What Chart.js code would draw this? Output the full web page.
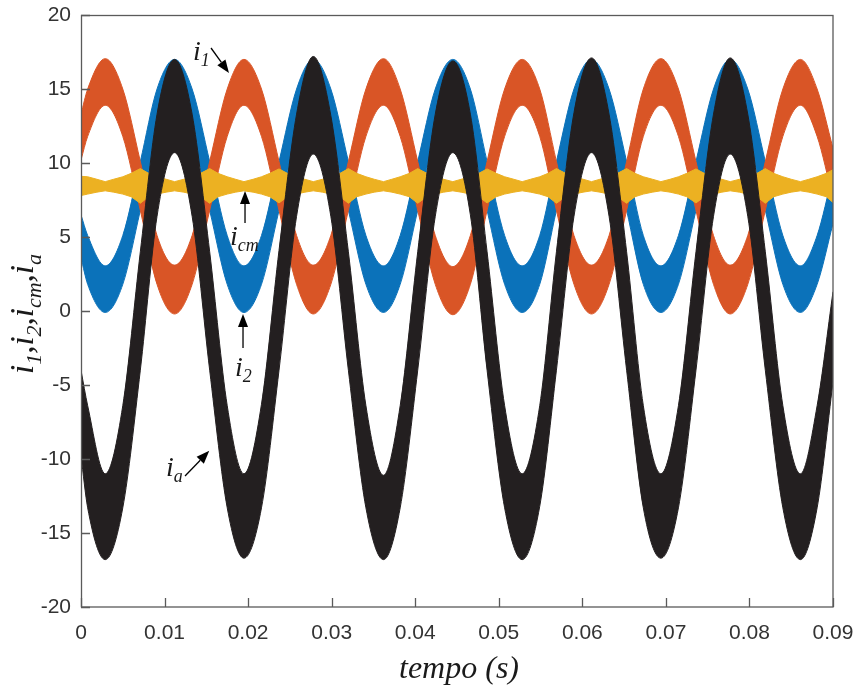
<!DOCTYPE html>
<html><head><meta charset="utf-8">
<script src="https://cdn.jsdelivr.net/npm/chart.js@4.4.1/dist/chart.umd.min.js"></script>
<style>html,body{margin:0;padding:0;background:#fff;}#wrap{width:856px;height:688px;}</style>
</head><body><div id="wrap"><canvas id="c" width="856" height="688"></canvas></div>
<script>
// ---- time samples (s) ----
const tA = [0, 0.0008, 0.0029, 0.0050, 0.0071, 0.0091, 0.0112, 0.0133, 0.0154, 0.0175, 0.0195, 0.0216, 0.0237, 0.0258, 0.0278, 0.0299, 0.0320, 0.0341, 0.0362, 0.0382, 0.0403, 0.0424, 0.0445, 0.0466, 0.0486, 0.0507, 0.0528, 0.0549, 0.0569, 0.0590, 0.0611, 0.0632, 0.0653, 0.0673, 0.0694, 0.0715, 0.0736, 0.0757, 0.0777, 0.0798, 0.0819, 0.0840, 0.0861, 0.0881, 0.0900];
const tB = [0, 0.0008, 0.0019, 0.0029, 0.0039, 0.0050, 0.0060, 0.0071, 0.0081, 0.0091, 0.0102, 0.0112, 0.0123, 0.0133, 0.0143, 0.0154, 0.0164, 0.0175, 0.0185, 0.0195, 0.0206, 0.0216, 0.0226, 0.0237, 0.0247, 0.0258, 0.0268, 0.0278, 0.0289, 0.0299, 0.0310, 0.0320, 0.0330, 0.0341, 0.0351, 0.0362, 0.0372, 0.0382, 0.0393, 0.0403, 0.0414, 0.0424, 0.0434, 0.0445, 0.0455, 0.0466, 0.0476, 0.0486, 0.0497, 0.0507, 0.0518, 0.0528, 0.0538, 0.0549, 0.0559, 0.0569, 0.0580, 0.0590, 0.0601, 0.0611, 0.0621, 0.0632, 0.0642, 0.0653, 0.0663, 0.0673, 0.0684, 0.0694, 0.0705, 0.0715, 0.0725, 0.0736, 0.0746, 0.0757, 0.0767, 0.0777, 0.0788, 0.0798, 0.0809, 0.0819, 0.0829, 0.0840, 0.0850, 0.0861, 0.0871, 0.0881, 0.0892, 0.0900];

// ---- i_a (black band: upper / lower envelope, A) ----
const iaUpper = [-4.0, -6.4,
  -11.0, -6.4, 4.0, 13.3, 17.0, 13.3, 4.0, -6.4,
  -11.0, -6.3, 4.1, 13.3, 17.2, 13.2, 4.0, -6.4,
  -11.1, -6.4, 4.0, 13.3, 16.9, 13.3, 4.0, -6.4,
  -11.0, -6.4, 4.0, 13.4, 17.1, 13.3, 4.0, -6.4,
  -11.0, -6.4, 4.0, 13.3, 17.1, 13.3, 4.0, -6.4,
  -11.0, -6.4, 1.3];
const iaLower = [-9.8, -13.3,
  -16.8, -13.3, -4.0, 6.4, 10.7, 6.4, -4.0, -13.3,
  -16.7, -13.3, -4.0, 6.4, 10.6, 6.4, -4.0, -13.3,
  -16.8, -13.3, -4.0, 6.4, 10.7, 6.5, -4.0, -13.3,
  -16.8, -13.2, -4.0, 6.4, 10.7, 6.4, -4.0, -13.3,
  -16.7, -13.3, -4.0, 6.4, 10.6, 6.4, -4.0, -13.3,
  -16.8, -13.3, -4.8];

// ---- i_1 (orange band) ----
const i1Upper = [13.3, 15.0,
  17.05, 15.0, 10.1, 5.1, 3.1, 5.1, 10.1, 15.0,
  17.0, 15.0, 10.1, 5.1, 3.1, 5.1, 10.1, 15.0,
  17.05, 15.0, 10.1, 5.1, 3.0, 5.1, 10.1, 15.0,
  17.0, 15.0, 10.1, 5.1, 3.1, 5.1, 10.1, 15.0,
  17.05, 15.0, 10.1, 5.1, 3.1, 5.1, 10.1, 15.0,
  17.0, 15.0, 11.0];
const i1Lower = [10.2, 11.8,
  13.9, 11.8, 6.8, 1.8, -0.2, 1.8, 6.8, 11.8,
  13.9, 11.8, 6.8, 1.8, -0.2, 1.8, 6.8, 11.8,
  13.9, 11.8, 6.8, 1.8, -0.25, 1.8, 6.8, 11.8,
  13.9, 11.8, 6.8, 1.8, -0.2, 1.8, 6.8, 11.8,
  13.9, 11.8, 6.8, 1.8, -0.2, 1.8, 6.8, 11.8,
  13.9, 11.8, 7.6];

// ---- i_2 (blue band) ----
const i2Upper = [6.5, 5.1,
  3.05, 5.1, 10.1, 15.0, 17.0, 15.0, 10.1, 5.1,
  3.05, 5.1, 10.1, 15.0, 17.0, 15.0, 10.1, 5.1,
  3.05, 5.1, 10.1, 15.0, 17.0, 15.0, 10.1, 5.1,
  3.05, 5.1, 10.1, 15.0, 17.0, 15.0, 10.1, 5.1,
  3.05, 5.1, 10.1, 15.0, 17.0, 15.0, 10.1, 5.1,
  3.05, 5.1, 9.3];
const i2Lower = [3.6, 1.8,
  -0.1, 1.8, 6.8, 11.8, 13.85, 11.8, 6.8, 1.8,
  -0.1, 1.8, 6.8, 11.8, 13.85, 11.8, 6.8, 1.8,
  -0.1, 1.8, 6.8, 11.8, 13.85, 11.8, 6.8, 1.8,
  -0.1, 1.8, 6.8, 11.8, 13.85, 11.8, 6.8, 1.8,
  -0.1, 1.8, 6.8, 11.8, 13.85, 11.8, 6.8, 1.8,
  -0.1, 1.8, 5.9];

// ---- i_cm (yellow band) ----
const icmUpper = [9.1, 9.07, 8.9,
  8.74, 8.9, 9.07, 9.3, 9.62, 9.3, 9.07, 8.9, 8.74, 8.9, 9.07, 9.3, 9.62, 9.3, 9.07, 8.9,
  8.74, 8.9, 9.07, 9.3, 9.6, 9.3, 9.07, 8.9, 8.74, 8.9, 9.07, 9.3, 9.62, 9.3, 9.07, 8.9,
  8.74, 8.9, 9.07, 9.3, 9.62, 9.3, 9.07, 8.9, 8.74, 8.9, 9.07, 9.3, 9.6, 9.3, 9.07, 8.9,
  8.74, 8.9, 9.07, 9.3, 9.62, 9.3, 9.07, 8.9, 8.74, 8.9, 9.07, 9.3, 9.62, 9.3, 9.07, 8.9,
  8.74, 8.9, 9.07, 9.3, 9.6, 9.3, 9.07, 8.9, 8.74, 8.9, 9.07, 9.3, 9.62, 9.3, 9.07, 8.9,
  8.74, 8.9, 9.07, 9.3, 9.55];
const icmLower = [7.8, 7.9, 8.03,
  8.12, 8.03, 7.9, 7.72, 7.28, 7.72, 7.9, 8.03, 8.12, 8.03, 7.9, 7.72, 7.28, 7.72, 7.9, 8.03,
  8.12, 8.03, 7.9, 7.72, 7.3, 7.72, 7.9, 8.03, 8.12, 8.03, 7.9, 7.72, 7.28, 7.72, 7.9, 8.03,
  8.12, 8.03, 7.9, 7.72, 7.28, 7.72, 7.9, 8.03, 8.12, 8.03, 7.9, 7.72, 7.3, 7.72, 7.9, 8.03,
  8.12, 8.03, 7.9, 7.72, 7.28, 7.72, 7.9, 8.03, 8.12, 8.03, 7.9, 7.72, 7.28, 7.72, 7.9, 8.03,
  8.12, 8.03, 7.9, 7.72, 7.3, 7.72, 7.9, 8.03, 8.12, 8.03, 7.9, 7.72, 7.28, 7.72, 7.9, 8.03,
  8.12, 8.03, 7.9, 7.72, 7.33];

// ---- ticks ----
const xTickValues = [0, 0.01, 0.02, 0.03, 0.04, 0.05, 0.06, 0.07, 0.08, 0.09];
const xTickLabels = ['0', '0.01', '0.02', '0.03', '0.04', '0.05', '0.06', '0.07', '0.08', '0.09'];
const yTickValues = [-20, -15, -10, -5, 0, 5, 10, 15, 20];
const yTickLabels = ['-20', '-15', '-10', '-5', '0', '5', '10', '15', '20'];

// ---- text annotations (data coordinates) ----
const notes = [
  { main: 'i', sub: '1',  at: [0.01340, 16.96], from: [0.01556, 17.77], to: [0.01771, 16.08] },
  { main: 'i', sub: 'cm', at: [0.01783, 4.46],  from: [0.01963, 5.95],  to: [0.01963, 8.10] },
  { main: 'i', sub: '2',  at: [0.01843, -4.39], from: [0.01939, -2.5],  to: [0.01939, -0.2] },
  { main: 'i', sub: 'a',  at: [0.01017, -11.15], from: [0.01245, -11.15], to: [0.01535, -9.45] }
];

const COLORS = { i2: '#0B72BA', i1: '#D95526', icm: '#ECB122', ia: '#231F20' };
const SERIF = '"Liberation Serif", "Times New Roman", serif';
const SANS = '"Liberation Sans", Arial, Helvetica, sans-serif';

function pts(t, v) { return t.map((x, i) => ({ x: x, y: v[i] })); }
function band(name, t, lo, hi, color, order, smooth) {
  const common = { borderColor: color, backgroundColor: color, borderWidth: 1, pointRadius: 0, order: order };
  if (smooth) { common.cubicInterpolationMode = 'monotone'; } else { common.tension = 0; }
  return [
    Object.assign({ label: name + ' min', data: pts(t, lo), fill: false }, common),
    Object.assign({ label: name + ' max', data: pts(t, hi), fill: '-1' }, common)
  ];
}

function richText(ctx, x, y, main, sub, fMain, fSub, subDrop) {
  ctx.textAlign = 'left';
  ctx.textBaseline = 'alphabetic';
  ctx.font = 'italic ' + fMain + 'px ' + SERIF;
  const w1 = ctx.measureText(main).width;
  ctx.fillText(main, x, y);
  ctx.font = 'italic ' + fSub + 'px ' + SERIF;
  ctx.fillText(sub, x + w1, y + subDrop);
}

function arrow(ctx, x1, y1, x2, y2) {
  const ang = Math.atan2(y2 - y1, x2 - x1);
  const L = 13, W = 5;
  const bx = x2 - L * Math.cos(ang), by = y2 - L * Math.sin(ang);
  ctx.beginPath();
  ctx.moveTo(x1, y1); ctx.lineTo(bx, by);
  ctx.lineWidth = 1.3; ctx.strokeStyle = '#000'; ctx.stroke();
  ctx.beginPath();
  ctx.moveTo(x2, y2);
  ctx.lineTo(bx + W * Math.sin(ang), by - W * Math.cos(ang));
  ctx.lineTo(bx - W * Math.sin(ang), by + W * Math.cos(ang));
  ctx.closePath(); ctx.fillStyle = '#000'; ctx.fill();
}

const decor = {
  id: 'decor',
  afterDraw(chart) {
    const ctx = chart.ctx, ca = chart.chartArea, xs = chart.scales.x, ys = chart.scales.y;
    ctx.save();
    // frame
    ctx.strokeStyle = '#5a5a5a'; ctx.lineWidth = 1.3;
    ctx.strokeRect(ca.left + 0.5, ca.top + 0.5, ca.right - ca.left - 0.5, ca.bottom - ca.top - 0.5);
    // inward ticks
    ctx.beginPath();
    xTickValues.forEach(v => { const p = Math.round(xs.getPixelForValue(v)) + 0.5; ctx.moveTo(p, ca.bottom); ctx.lineTo(p, ca.bottom - 9); });
    yTickValues.forEach(v => { const p = Math.round(ys.getPixelForValue(v)) + 0.5; ctx.moveTo(ca.left, p); ctx.lineTo(ca.left + 9, p); });
    ctx.stroke();
    // x title
    ctx.fillStyle = '#1a1a1a';
    ctx.font = 'italic 32px ' + SERIF; ctx.textAlign = 'center'; ctx.textBaseline = 'alphabetic';
    ctx.fillText('tempo (s)', (ca.left + ca.right) / 2 + 2, 678);
    // y title (rotated, with subscripts)
    const parts = [['i', 0], ['1', 1], [',', 0], ['i', 0], ['2', 1], [',', 0], ['i', 0], ['cm', 1], [',', 0], ['i', 0], ['a', 1]];
    const fM = 33, fS = 22, drop = 8;
    let total = 0;
    parts.forEach(p => { ctx.font = 'italic ' + (p[1] ? fS : fM) + 'px ' + SERIF; total += ctx.measureText(p[0]).width; });
    ctx.translate(33, 314); ctx.rotate(-Math.PI / 2);
    let cx = -total / 2;
    ctx.textAlign = 'left';
    parts.forEach(p => {
      ctx.font = 'italic ' + (p[1] ? fS : fM) + 'px ' + SERIF;
      ctx.fillText(p[0], cx, p[1] ? drop : 0);
      cx += ctx.measureText(p[0]).width;
    });
    ctx.setTransform(1, 0, 0, 1, 0, 0);
    // annotations
    notes.forEach(n => {
      const tx = xs.getPixelForValue(n.at[0]), ty = ys.getPixelForValue(n.at[1]);
      ctx.fillStyle = '#1a1a1a';
      richText(ctx, tx, ty, n.main, n.sub, 28, 18, 6);
      arrow(ctx, xs.getPixelForValue(n.from[0]), ys.getPixelForValue(n.from[1]), xs.getPixelForValue(n.to[0]), ys.getPixelForValue(n.to[1]));
    });
    ctx.restore();
  }
};

const datasets = [].concat(
  band('i2', tA, i2Lower, i2Upper, COLORS.i2, 4, true),
  band('i1', tA, i1Lower, i1Upper, COLORS.i1, 3, true),
  band('icm', tB, icmLower, icmUpper, COLORS.icm, 2, false),
  band('ia', tA, iaLower, iaUpper, COLORS.ia, 1, true)
);

function fixPad(s) { s.paddingTop = 0; s.paddingBottom = 0; s.paddingLeft = 0; s.paddingRight = 0; }

new Chart(document.getElementById('c'), {
  type: 'line',
  data: { datasets: datasets },
  options: {
    responsive: false, animation: false,
    layout: { padding: { left: 0, right: 23, top: 15, bottom: 0 } },
    plugins: { legend: { display: false }, tooltip: { enabled: false } },
    scales: {
      x: {
        type: 'linear', min: 0, max: 0.09,
        afterBuildTicks: s => { s.ticks = xTickValues.map(v => ({ value: v })); },
        afterFit: s => { s.height = 81; fixPad(s); },
        grid: { display: false, drawTicks: false }, border: { display: false },
        ticks: { callback: (v, i) => xTickLabels[i], color: '#333', font: { family: SANS, size: 21 }, padding: 14, maxRotation: 0, autoSkip: false }
      },
      y: {
        type: 'linear', min: -20, max: 20,
        afterBuildTicks: s => { s.ticks = yTickValues.map(v => ({ value: v })); },
        afterFit: s => { s.width = 81; fixPad(s); },
        grid: { display: false, drawTicks: false }, border: { display: false },
        ticks: { callback: (v, i) => yTickLabels[i], color: '#333', font: { family: SANS, size: 21 }, padding: 10, autoSkip: false }
      }
    }
  },
  plugins: [decor]
});
</script></body></html>
